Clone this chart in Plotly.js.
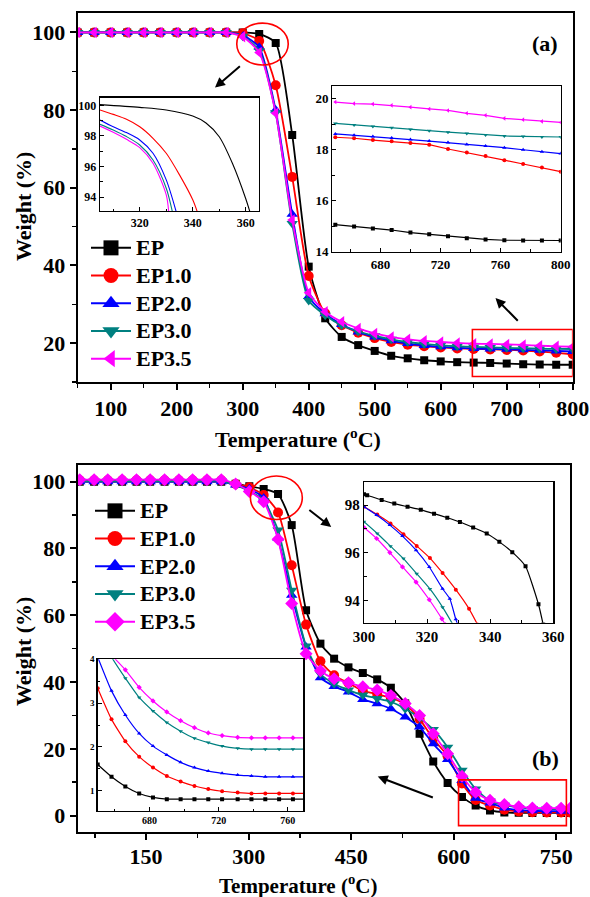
<!DOCTYPE html>
<html><head><meta charset="utf-8">
<script src="https://cdn.plot.ly/plotly-3.0.1.min.js"></script>
<style>html,body{margin:0;padding:0;background:#fff}#chart{width:590px;height:897px}</style>
</head><body><div id="chart"></div>
<script>
// ---------- DATA ----------
const seriesNames = ["EP", "EP1.0", "EP2.0", "EP3.0", "EP3.5"];

// Panel (a) main
const xA = [50,75,100,125,150,175,200,225,250,275,300,325,350,375,400,425,450,475,500,525,550,575,600,625,650,675,700,725,750,775,800];
const a_EP   = [100,100,100,100,100,100,100,100,100,100,100,99.6,97.3,73.6,39.7,26.4,21.6,19.5,18.0,16.75,16.1,15.6,15.3,15.1,15.0,14.9,14.75,14.6,14.48,14.44,14.44];
const a_EP10 = [100,100,100,100,100,100,100,100,100,100,99.8,97.8,86.4,62.8,37.3,27.7,24.6,22.7,21.3,20.3,19.6,19.2,18.9,18.65,18.5,18.38,18.26,18.1,17.85,17.52,17.14];
const a_EP20 = [100,100,100,100,100,100,100,100,100,100,99.3,96.2,80.0,53.2,32.0,27.6,24.8,22.9,21.6,20.6,19.9,19.4,19.05,18.8,18.62,18.52,18.4,18.28,18.15,18.0,17.85];
const a_EP30 = [100,100,100,100,100,100,100,100,100,100,99.0,95.3,79.3,50.8,31.0,27.2,24.6,23.0,21.9,21.0,20.3,19.8,19.45,19.2,19.03,18.91,18.79,18.69,18.58,18.52,18.5];
const a_EP35 = [100,100,100,100,100,100,100,100,100,100,98.9,94.8,79.2,51.7,33.0,28.1,25.5,23.8,22.5,21.6,21.0,20.6,20.3,20.05,19.87,19.79,19.67,19.54,19.35,19.18,19.07];

// Panel (a) inset 1 (onset region)
const a1_EP_x   = [305,320,330,340,345,350,355,360,362];
const a1_EP_y   = [100.05,99.87,99.7,99.3,98.85,97.95,96.2,93.9,92.8];
const a1_EP10_x = [305,310,315,320,325,330,335,340,342];
const a1_EP10_y = [99.7,99.41,99.09,98.6,97.85,96.87,95.46,93.83,92.9];
const a1_EP20_x = [305,310,315,320,325,330,334];
const a1_EP20_y = [99.04,98.6,98.22,97.74,96.87,95.13,92.9];
const a1_EP30_x = [305,310,315,320,325,330,332.5];
const a1_EP30_y = [98.76,98.39,97.96,97.41,96.43,94.59,92.9];
const a1_EP35_x = [305,310,315,320,325,330,331];
const a1_EP35_y = [98.65,98.24,97.78,97.24,96.22,94.15,92.9];

// Panel (a) inset 2 (residue region)
const a2_x    = [650,662.5,675,687.5,700,712.5,725,737.5,750,762.5,775,787.5,800];
const a2_EP   = [15.06,14.99,14.91,14.85,14.75,14.68,14.61,14.53,14.48,14.45,14.44,14.44,14.44];
const a2_EP10 = [18.49,18.45,18.38,18.33,18.26,18.2,18.03,17.89,17.75,17.59,17.44,17.3,17.14];
const a2_EP20 = [18.62,18.57,18.52,18.46,18.4,18.34,18.28,18.21,18.15,18.08,18.0,17.92,17.85];
const a2_EP30 = [19.03,18.97,18.91,18.86,18.79,18.74,18.69,18.64,18.58,18.54,18.52,18.5,18.5];
const a2_EP35 = [19.87,19.81,19.79,19.74,19.67,19.6,19.54,19.43,19.35,19.23,19.18,19.11,19.07];

// Panel (b) main
const xB = [53,74,94,115,136,156,177,198,218,239,260,281,301,322,343,363,384,405,425,446,467,488,508,529,550,570,591,612,632,653,674,695,715,736,757,770];
const b_EP   = [100,100,100,100,100,100,100,100,100,100,100,99.4,98.6,97.8,96.3,87,61.5,51.5,47,44.4,42.7,40.8,38.3,33.6,24.5,16.2,9.8,5.6,3.0,1.55,0.95,0.82,0.81,0.81,0.81,0.81];
const b_EP10 = [100.4,100.4,100.4,100.4,100.4,100.4,100.4,100.4,100.4,100.4,100.4,99.3,98.3,96.0,90.8,75,57.2,46.2,42.0,39.7,37.4,36.4,35.3,33.3,28.9,23.0,17.8,9.6,4.7,3.05,1.78,1.25,1.03,0.95,0.94,0.94];
const b_EP20 = [100,100,100,100,100,100,100,100,100,100,100,99.0,97.9,95.1,83,66,50.5,41.3,38.7,37.0,34.8,33.5,32.0,29.5,26.5,21.5,16.8,10.5,5.2,3.8,2.31,1.7,1.45,1.36,1.33,1.32];
const b_EP30 = [100.2,100.2,100.2,100.2,100.2,100.2,100.2,100.2,100.2,100.2,100.2,98.9,97.2,94.3,85.5,67.5,50.8,42.4,39.5,37.6,36.1,35.1,34.1,32.0,29.2,25.8,20.5,13.6,8.0,4.4,3.13,2.45,2.09,1.96,1.95,1.95];
const b_EP35 = [100.6,100.6,100.6,100.6,100.6,100.6,100.6,100.6,100.6,100.6,100.6,99.3,97.1,94.0,82.8,63.5,48.5,43.4,41.0,39.8,38.6,37.6,36.0,33.6,30.0,24.5,18.5,11.8,7.0,4.6,3.36,2.68,2.31,2.22,2.21,2.21];

// Panel (b) inset top-right (onset region)
const b1_EP_x   = [300,301,305.6,309.6,313.8,318,322.2,326.4,330.4,334.6,338.9,342.9,347,351.2,355.3,356.8];
const b1_EP_y   = [98.45,98.41,98.21,98.06,97.93,97.8,97.64,97.47,97.29,97.06,96.81,96.46,96.03,95.44,93.85,93.0];
const b1_EP10_x = [300,304.2,308.4,312.5,316.7,320.9,324.9,329.1,333.3,336];
const b1_EP10_y = [97.93,97.6,97.23,96.78,96.29,95.78,95.16,94.46,93.66,93.0];
const b1_EP20_x = [300,304,308.2,312.2,316.5,320.7,324.9,327.2,329.1,329.7];
const b1_EP20_y = [97.93,97.58,97.16,96.7,96.11,95.41,94.5,94.08,93.22,93.0];
const b1_EP30_x = [300,304.2,308.4,312.5,316.7,320.9,324.9,328.2];
const b1_EP30_y = [97.3,96.81,96.28,95.76,95.13,94.49,93.73,93.0];
const b1_EP35_x = [300,304,308.2,312.2,316.5,320.7,324.7,325.8];
const b1_EP35_y = [97.06,96.6,96.01,95.41,94.78,94.04,93.24,93.0];

// Panel (b) inset bottom-left (residue region)
const b2_x    = [650,658,666,674,682,690,698,706,714,722,731,739,747,755,763,770];
const b2_EP   = [1.60,1.32,1.10,0.94,0.85,0.81,0.81,0.81,0.81,0.81,0.81,0.81,0.81,0.81,0.81,0.81];
const b2_EP10 = [3.34,2.63,2.13,1.78,1.53,1.34,1.21,1.11,1.04,0.99,0.96,0.94,0.94,0.94,0.94,0.94];
const b2_EP20 = [4.05,3.28,2.73,2.31,2.02,1.82,1.65,1.53,1.45,1.40,1.36,1.34,1.32,1.32,1.32,1.32];
const b2_EP30 = [4.6,4.05,3.57,3.13,2.82,2.56,2.36,2.20,2.10,2.02,1.97,1.95,1.95,1.95,1.95,1.95];
const b2_EP35 = [4.5,4.1,3.76,3.36,3.05,2.80,2.60,2.44,2.32,2.26,2.22,2.21,2.21,2.21,2.21,2.21];

// ---------- STYLE ----------
const colors = ["#000000", "#FF0000", "#0000FF", "#008080", "#FF00FF"];
const symA = ["square", "circle", "triangle-up", "triangle-down", "triangle-left"];
const symB = ["square", "circle", "triangle-up", "triangle-down", "diamond"];
const FONT = "Liberation Serif";
const W = 590, H = 897;
const dx = (l, r) => [l / W, r / W];
const dy = (t, b) => [1 - b / H, 1 - t / H];

const traces = [];
const aSeries = [a_EP, a_EP10, a_EP20, a_EP30, a_EP35];
const bSeries = [b_EP, b_EP10, b_EP20, b_EP30, b_EP35];
const a1 = [[a1_EP_x,a1_EP_y],[a1_EP10_x,a1_EP10_y],[a1_EP20_x,a1_EP20_y],[a1_EP30_x,a1_EP30_y],[a1_EP35_x,a1_EP35_y]];
const a2 = [a2_EP, a2_EP10, a2_EP20, a2_EP30, a2_EP35];
const b1 = [[b1_EP_x,b1_EP_y],[b1_EP10_x,b1_EP10_y],[b1_EP20_x,b1_EP20_y],[b1_EP30_x,b1_EP30_y],[b1_EP35_x,b1_EP35_y]];
const b2 = [b2_EP, b2_EP10, b2_EP20, b2_EP30, b2_EP35];
const mainSize = [8, 10, 10, 10, 10];

for (let i = 0; i < 5; i++) {
  traces.push({x: xA, y: aSeries[i], xaxis: "x", yaxis: "y", mode: "lines+markers", showlegend: false,
    line: {color: colors[i], width: 1.8, shape: "spline", smoothing: 0.6},
    marker: {symbol: symA[i], size: mainSize[i], color: colors[i]}});
}
for (let i = 0; i < 5; i++) {
  traces.push({x: a1[i][0], y: a1[i][1], xaxis: "x2", yaxis: "y2", mode: "lines", showlegend: false,
    line: {color: colors[i], width: 1.1, shape: "spline", smoothing: 0.8}});
}
for (let i = 0; i < 5; i++) {
  traces.push({x: a2_x, y: a2[i], xaxis: "x3", yaxis: "y3", mode: "lines+markers", showlegend: false,
    line: {color: colors[i], width: 1.2}, marker: {symbol: symA[i], size: 4, color: colors[i]}});
}
for (let i = 0; i < 5; i++) {
  traces.push({x: xB, y: bSeries[i], xaxis: "x4", yaxis: "y4", mode: "lines+markers", showlegend: false,
    line: {color: colors[i], width: 1.8, shape: "spline", smoothing: 0.6},
    marker: {symbol: symB[i], size: mainSize[i], color: colors[i]}});
}
for (let i = 0; i < 5; i++) {
  traces.push({x: b1[i][0], y: b1[i][1], xaxis: "x5", yaxis: "y5", mode: "lines+markers", showlegend: false,
    line: {color: colors[i], width: 1.2, shape: "spline", smoothing: 0.5}, marker: {symbol: symB[i], size: 4, color: colors[i]}});
}
for (let i = 0; i < 5; i++) {
  traces.push({x: b2_x, y: b2[i], xaxis: "x6", yaxis: "y6", mode: "lines+markers", showlegend: false,
    line: {color: colors[i], width: 1.2, shape: "spline", smoothing: 0.5}, marker: {symbol: symB[i], size: 4, color: colors[i]}});
}
// legend entries (text enlarged inside a span so row spacing stays compact)
const legName = n => '<span style="font-size:22px">' + n + '</span>';
for (let i = 0; i < 5; i++) {
  traces.push({x: [null], y: [null], xaxis: "x", yaxis: "y", mode: "lines+markers", name: legName(seriesNames[i]), legend: "legend",
    line: {color: colors[i], width: 2}, marker: {symbol: symA[i], size: 15, color: colors[i]}});
}
for (let i = 0; i < 5; i++) {
  traces.push({x: [null], y: [null], xaxis: "x4", yaxis: "y4", mode: "lines+markers", name: legName(seriesNames[i]), legend: "legend2",
    line: {color: colors[i], width: 2}, marker: {symbol: symB[i], size: 15, color: colors[i]}});
}

const tickBold = s => ({family: FONT, size: s, color: "#000", weight: "bold"});
function mainAx(domain, range, dtick, minor, anchor, standoff) {
  return {domain, range, anchor, dtick, tick0: 0, showgrid: false, zeroline: false,
    showline: true, linewidth: 2, linecolor: "#000", mirror: true,
    ticks: "outside", ticklen: 6, tickwidth: 2, tickcolor: "#000", ticklabelstandoff: standoff || 0,
    minor: {dtick: minor, tick0: 0, ticks: "outside", ticklen: 4, tickwidth: 1.5, tickcolor: "#000"},
    tickfont: tickBold(22)};
}
function insetAx(domain, range, dtick, minor, anchor, fs) {
  return {domain, range, anchor, dtick, tick0: 0, showgrid: false, zeroline: false,
    showline: true, linewidth: 1.3, linecolor: "#000", mirror: true,
    ticks: "inside", ticklen: 4, tickwidth: 1, tickcolor: "#000",
    minor: {dtick: minor, tick0: 0, ticks: "inside", ticklen: 2.5, tickwidth: 1, tickcolor: "#000"},
    tickfont: tickBold(fs)};
}
const txt = (x, y, text, extra) => Object.assign({xref: "paper", yref: "paper", x: x / W, y: 1 - y / H,
  xanchor: "center", yanchor: "middle", text, showarrow: false,
  font: {family: FONT, size: 22, color: "#000", weight: "bold"}}, extra || {});
const arrow = (xr, yr, x, y, ax, ay) => ({xref: xr, yref: yr, axref: xr, ayref: yr, x, y, ax, ay, text: "",
  showarrow: true, arrowhead: 2, arrowsize: 1, arrowwidth: 2, arrowcolor: "#000"});

const legFont = {family: FONT, size: 19, color: "#000", weight: "bold"};
const layout = {
  width: W, height: H, margin: {l: 0, r: 0, t: 0, b: 0},
  paper_bgcolor: "#fff", plot_bgcolor: "#fff",
  xaxis:  mainAx(dx(77.7, 572.7), [50, 800], 100, 50, "y"),
  yaxis:  mainAx(dy(13, 382), [10, 105], 20, 10, "x"),
  xaxis2: insetAx(dx(100, 259), [305, 365], 20, 10, "y2", 12),
  yaxis2: insetAx(dy(97.7, 211), [93.1, 100.5], 2, 1, "x2", 12),
  xaxis3: insetAx(dx(332.3, 560.7), [648, 800], 40, 20, "y3", 13),
  yaxis3: insetAx(dy(86, 251.7), [14, 20.5], 2, 1, "x3", 13),
  xaxis4: mainAx(dx(77.7, 570), [50, 770], 150, 75, "y4", -3),
  yaxis4: mainAx(dy(465, 832.3), [-5, 105], 20, 10, "x4"),
  xaxis5: insetAx(dx(364, 553.3), [300, 360], 20, 10, "y5", 15),
  yaxis5: insetAx(dy(482.3, 622.7), [93.08, 98.95], 2, 1, "x5", 15),
  xaxis6: insetAx(dx(97.7, 303.3), [650, 769], 40, 20, "y6", 10),
  yaxis6: insetAx(dy(659.3, 811), [0.54, 4.0], 1, 0.5, "x6", 9),
  legend: {x: 86 / W, xanchor: "left", y: 1 - 229 / H, yanchor: "top", bgcolor: "rgba(0,0,0,0)",
    font: legFont, itemwidth: 40, tracegroupgap: 0},
  legend2: {x: 90 / W, xanchor: "left", y: 1 - 492 / H, yanchor: "top", bgcolor: "rgba(0,0,0,0)",
    font: legFont, itemwidth: 40, tracegroupgap: 0},
  shapes: [
    {type: "circle", xref: "x", yref: "y", x0: 291, x1: 369, y0: 91.6, y1: 102.4, line: {color: "#FF0000", width: 1.6}},
    {type: "rect", xref: "x", yref: "y", x0: 648, x1: 800, y0: 11.4, y1: 23.5, line: {color: "#FF0000", width: 1.6}},
    {type: "circle", xref: "x4", yref: "y4", x0: 302.6, x1: 378.5, y0: 88.7, y1: 101.7, line: {color: "#FF0000", width: 1.6}},
    {type: "rect", xref: "x4", yref: "y4", x0: 607, x1: 764.7, y0: -3.0, y1: 10.7, line: {color: "#FF0000", width: 1.6}}
  ],
  annotations: [
    txt(298, 438, "Temperature (<sup>o</sup>C)"),
    txt(23, 207, "Weight (%)", {textangle: -90}),
    txt(298, 884, "Temperature (<sup>o</sup>C)", {font: {family: FONT, size: 21, color: "#000", weight: "bold"}}),
    txt(23, 652, "Weight (%)", {textangle: -90}),
    txt(545, 43, "(a)"),
    txt(545, 758, "(b)"),
    arrow("x", "y", 258, 85.8, 298, 91.6),
    arrow("x", "y", 683, 31.6, 719, 25.4),
    arrow("x4", "y4", 420.8, 86.4, 386.6, 91.9),
    arrow("x4", "y4", 488.8, 11.7, 571.6, 5.25)
  ]
};

Plotly.newPlot("chart", traces, layout, {displayModeBar: false, staticPlot: true});
</script>
</body></html>
